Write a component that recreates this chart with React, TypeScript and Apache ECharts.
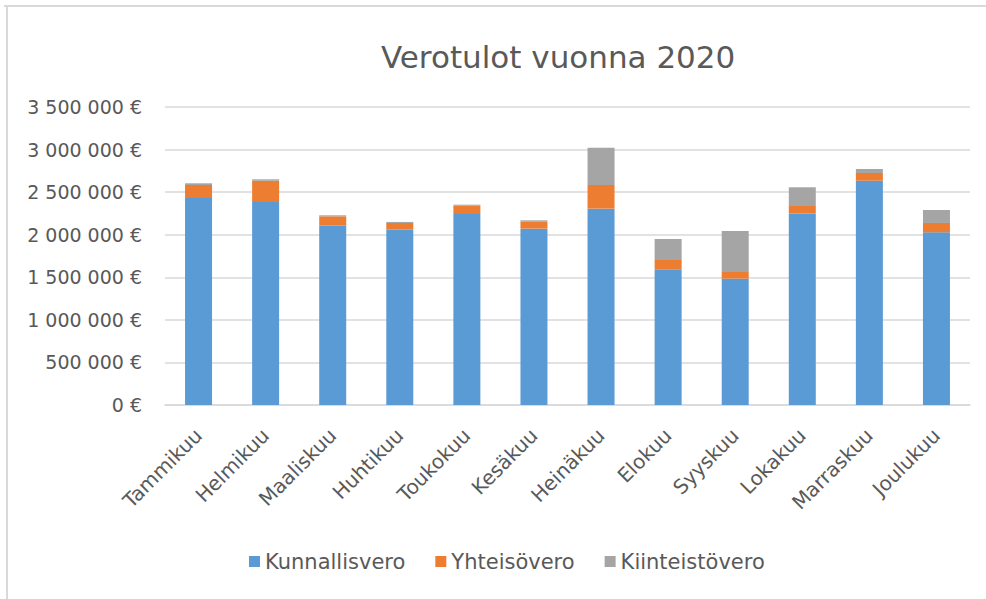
import React, { useEffect, useRef } from "react";
import * as echarts from "echarts";

const categories = ["Tammikuu", "Helmikuu", "Maaliskuu", "Huhtikuu", "Toukokuu", "Kesäkuu", "Heinäkuu", "Elokuu", "Syyskuu", "Lokakuu", "Marraskuu", "Joulukuu"];
const kunnallisvero = [2431000, 2384000, 2106000, 2059000, 2243000, 2071000, 2306000, 1594000, 1484000, 2247000, 2634000, 2028000];
const yhteisovero = [153000, 250000, 110000, 79000, 98000, 86000, 278000, 109000, 78000, 90000, 91000, 110000];
const kiinteistovero = [20000, 17000, 12000, 12000, 12000, 12000, 438000, 247000, 482000, 220000, 47000, 152000];
const seriesNames = ["Kunnallisvero", "Yhteisövero", "Kiinteistövero"];
const colors = ["#5B9BD5", "#ED7D31", "#A5A5A5"];

const FONT = "'DejaVu Sans', 'Noto Sans', sans-serif";
const TEXT = "#595959";

function fmt(v: number): string {
  const s = Math.round(v).toString().replace(/\B(?=(\d{3})+(?!\d))/g, "\u00a0");
  return s + "\u00a0€";
}

export default function App() {
  const ref = useRef<HTMLDivElement>(null);
  useEffect(() => {
    if (!ref.current) return;
    const chart = echarts.init(ref.current, null, { renderer: "svg" });
    const data = [kunnallisvero, yhteisovero, kiinteistovero];
    chart.setOption({
      animation: false,
      backgroundColor: "#ffffff",
      textStyle: { fontFamily: FONT },
      title: {
        text: "Verotulot vuonna 2020",
        left: 381,
        top: 41,
        padding: 0,
        textStyle: { fontFamily: FONT, fontSize: 31, fontWeight: "normal", color: TEXT },
      },
      graphic: [
        { type: "line", shape: { x1: 4, y1: 6, x2: 986, y2: 6 }, style: { stroke: "#d9d9d9", lineWidth: 2 } },
        { type: "line", shape: { x1: 7, y1: 5, x2: 7, y2: 599 }, style: { stroke: "#d9d9d9", lineWidth: 2 } },
      ],
      legend: {
        data: seriesNames,
        left: 249,
        top: 551,
        padding: 0,
        itemWidth: 11,
        itemHeight: 11,
        itemGap: 30,
        icon: "rect",
        textStyle: { fontFamily: FONT, fontSize: 21, color: TEXT },
      },
      grid: { left: 165, right: 16, top: 107, bottom: 194, containLabel: false },
      xAxis: {
        type: "category",
        data: categories,
        axisLine: { lineStyle: { color: "#d9d9d9", width: 1.5 } },
        axisTick: { show: false },
        axisLabel: { rotate: 45, fontSize: 20, color: TEXT, margin: 27, fontFamily: FONT, interval: 0 },
      },
      yAxis: {
        type: "value",
        min: 0,
        max: 3500000,
        interval: 500000,
        axisLine: { show: false },
        axisTick: { show: false },
        splitLine: { lineStyle: { color: "#d9d9d9", width: 1.5 } },
        axisLabel: { formatter: (v: number) => fmt(v), fontSize: 19, color: TEXT, margin: 23, fontFamily: FONT },
      },
      series: seriesNames.map((name, i) => ({
        name,
        type: "bar",
        stack: "total",
        data: data[i],
        barWidth: 27,
        itemStyle: { color: colors[i] },
      })),
    });
    return () => chart.dispose();
  }, []);
  return <div ref={ref} style={{ position: "fixed", left: 0, top: 0, width: 986, height: 599 }} />;
}
